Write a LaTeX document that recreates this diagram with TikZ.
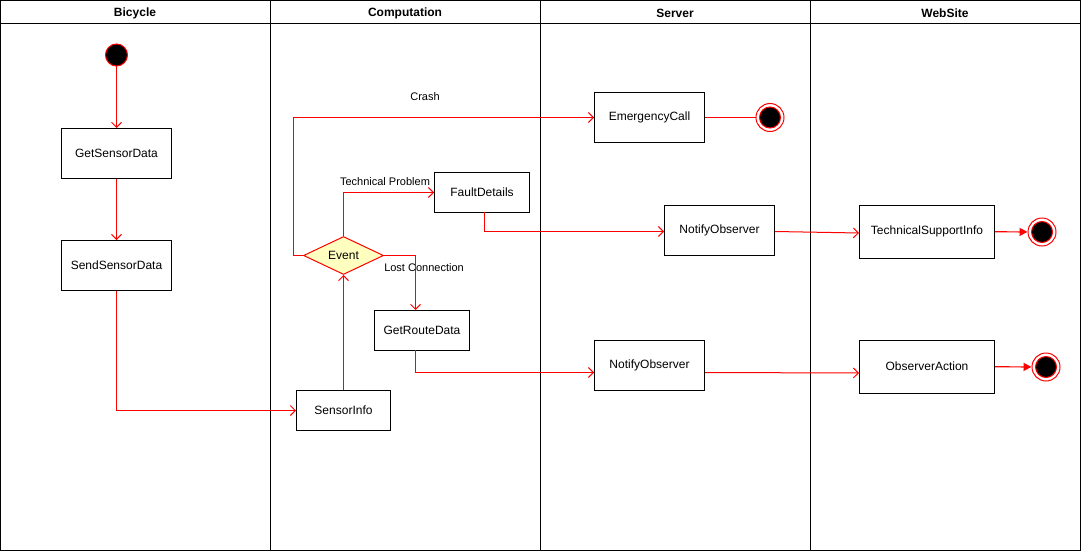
\documentclass[tikz,border=0pt]{standalone}
\usepackage{fontspec}
\setmainfont{Liberation Sans}
\usetikzlibrary{arrows.meta,shapes.geometric}
\begin{document}
\begin{tikzpicture}[x=1pt,y=-1pt,
  lane/.style={draw=black,line width=1pt},
  hdr/.style={font=\bfseries\fontsize{12}{14}\selectfont},
  box/.style={draw=black,fill=white,line width=1pt,inner sep=0pt,font=\fontsize{12}{14}\selectfont},
  lbl/.style={font=\fontsize{11}{13}\selectfont,inner sep=1pt},
  flow/.style={draw=red,line width=1pt,-{Straight Barb[length=5pt,width=10pt]}},
  fflow/.style={draw=red,line width=1.2pt,-{Triangle[length=8pt,width=8pt]}},
  startnode/.style={circle,draw=red,fill=black,line width=1pt,minimum size=22pt,inner sep=0pt},
  endnode/.style={circle,draw=red,fill=white,line width=1pt,minimum size=28pt,inner sep=0pt,
    path picture={\draw[red,fill=black,line width=1pt] (path picture bounding box.center) circle (10.5pt);}},
  decision/.style={diamond,aspect=2.1,draw=red,fill={rgb,255:red,255;green,255;blue,192},line width=1pt,inner sep=0pt,minimum width=80pt,minimum height=38pt,font=\fontsize{12}{14}\selectfont}
]
\useasboundingbox (0,0) rectangle (1081,551);
\fill[white] (0,0) rectangle (1081,551);
% swimlanes
\draw[lane] (0.5,0.5) rectangle (1080.5,550.5);
\draw[lane] (0.5,23.5) -- (1080.5,23.5);
\draw[lane] (270.5,0.5) -- (270.5,550.5);
\draw[lane] (540.5,0.5) -- (540.5,550.5);
\draw[lane] (810.5,0.5) -- (810.5,550.5);
\node[hdr] (h1) at (135,13) {Bicycle};
\node[hdr] (h2) at (405,13) {Computation};
\node[hdr] (h3) at (675,13) {Server};
\node[hdr] (h4) at (945,13) {WebSite};
% nodes
\node[startnode] (start) at (116.5,55) {};
\node[box,minimum width=110pt,minimum height=50pt] (get) at (116.5,153.5) {GetSensorData};
\node[box,minimum width=110pt,minimum height=50pt] (send) at (116.5,265.5) {SendSensorData};
\node[box,minimum width=94pt,minimum height=40pt] (info) at (343.5,410.5) {SensorInfo};
\node[decision] (event) at (343.5,255.5) {Event};
\node[box,minimum width=95pt,minimum height=40pt] (fault) at (482,192.5) {FaultDetails};
\node[box,minimum width=95pt,minimum height=40pt] (route) at (422,330.5) {GetRouteData};
\node[box,minimum width=110pt,minimum height=50pt] (emerg) at (649.5,117.5) {EmergencyCall};
\node[endnode] (end1) at (770,117.5) {};
\node[box,minimum width=110pt,minimum height=50pt] (notify1) at (719.5,230.5) {NotifyObserver};
\node[box,minimum width=110pt,minimum height=50pt] (notify2) at (649.5,365.5) {NotifyObserver};
\node[box,minimum width=135pt,minimum height=53pt] (tech) at (927,231.5) {TechnicalSupportInfo};
\node[box,minimum width=135pt,minimum height=53pt] (action) at (927,366.5) {ObserverAction};
\node[endnode] (end2) at (1042,232) {};
\node[endnode] (end3) at (1046,367) {};
% connectors
\draw[flow] (start) -- (get);
\draw[flow] (get) -- (send);
\draw[flow] (send.south) |- (info.west);
\draw[flow] (info.north) -- (event.south);
\coordinate (cl) at (293.5,255.5);
\draw[flow] (event.west) -- (cl) |- (emerg.west);
\node[lbl] (crash) at (425,97) {Crash};
\draw[flow] (event.north) |- (fault.west);
\node[lbl] (tp) at (385,182) {Technical Problem};
\coordinate (rt) at (415.5,310);
\draw[flow] (event.east) -| (rt);
\node[lbl] (lc) at (424,268) {Lost Connection};
\coordinate (fb) at (484.5,212);
\draw[flow] (fb) |- ([yshift=-1]notify1.west);
\coordinate (rb) at (415.5,350);
\draw[flow] (rb) |- ([yshift=-7]notify2.west);
\draw[draw=red,line width=1pt] (emerg.east) -- (end1);
\draw[flow] ([yshift=-1]notify1.east) -- ([yshift=-1.5]tech.west);
\draw[flow] ([yshift=-7]notify2.east) -- ([yshift=-6.5]action.west);
\draw[fflow] (tech) -- (end2);
\draw[fflow] (action) -- (end3);
\end{tikzpicture}
\end{document}
